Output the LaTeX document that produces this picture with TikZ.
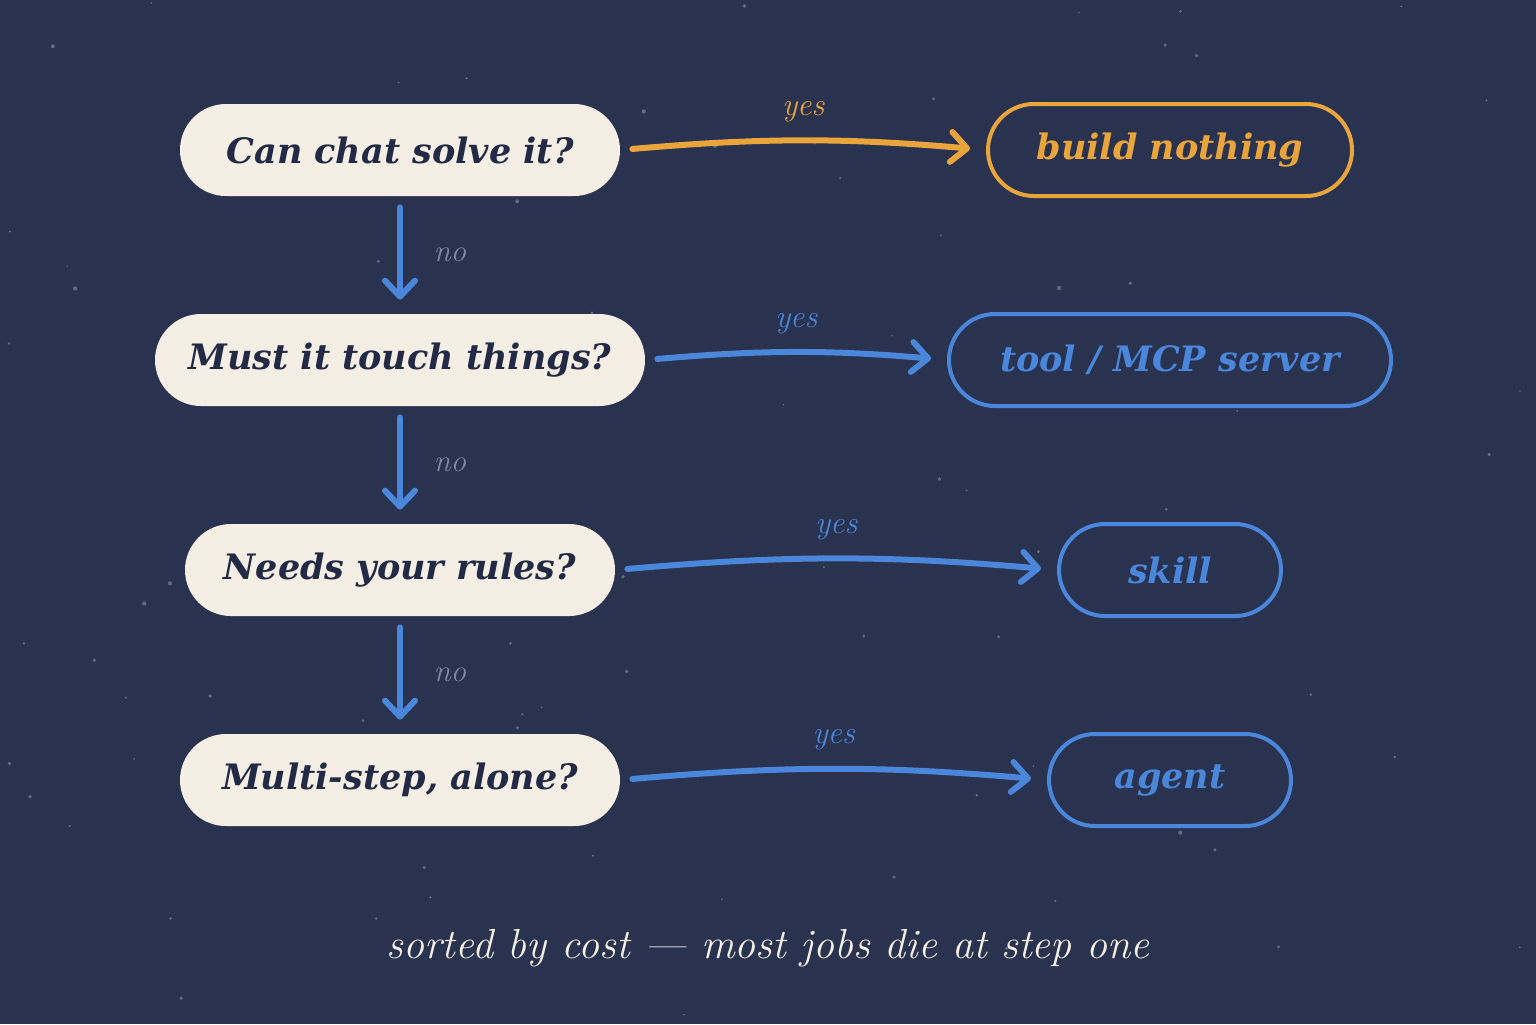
\documentclass[tikz,border=0pt]{standalone}
\usepackage{fontspec}
\newfontfamily\boxfont{DejaVu Serif}
\usetikzlibrary{arrows.meta,positioning}
\definecolor{navy}{HTML}{29324F}
\definecolor{cream}{HTML}{F4EEE4}
\definecolor{ink}{HTML}{222A45}
\definecolor{amber}{HTML}{E9A43B}
\definecolor{sky}{HTML}{4A86D9}
\definecolor{slate}{HTML}{7F8AA6}
\tikzset{%
	question/.style = {rectangle, rounded corners=23pt, fill=cream, text=ink, minimum height=46pt, inner sep=0pt, font=\boxfont\bfseries\itshape\fontsize{17.5}{20}\selectfont},
	answer/.style   = {rectangle, rounded corners=23pt, draw=#1, fill=navy, line width=2pt, text=#1, minimum height=46pt, inner sep=0pt, font=\boxfont\bfseries\itshape\fontsize{17.5}{20}\selectfont},
	yesarrow/.style = {draw=#1, line width=3pt, line cap=round, -{Straight Barb[length=8pt,width=15pt,line cap=round,line join=round]}, bend left=5, shorten <=6pt, shorten >=8pt},
	noarrow/.style  = {draw=sky, line width=3pt, line cap=round, -{Straight Barb[length=8pt,width=15pt,line cap=round,line join=round]}, shorten <=5.5pt, shorten >=7pt},
	yeslabel/.style = {midway, above=4.5pt, font=\itshape\fontsize{16}{18}\selectfont},
	nolabel/.style  = {midway, right=12pt, text=slate, font=\itshape\fontsize{15.5}{18}\selectfont},
}

\begin{document}
\begin{tikzpicture}[x=0.5pt,y=-0.5pt,node distance=105pt]
	\fill[navy] (0,0) rectangle (1536,1024);
	\useasboundingbox (0,0) rectangle (1536,1024);
	% faint stars
	\pgfmathsetseed{11}
	\foreach \i in {1,...,90}
		\fill[white, opacity=0.28] (1536*rnd,1024*rnd) circle (0.4pt+0.7pt*rnd);

	% questions
	\node [question, minimum width=220pt] (chat) at (400,150) {Can chat solve it?};
	\node [question, minimum width=245pt] (touch) [below of=chat] {Must it touch things?};
	\node [question, minimum width=215pt] (rules) [below of=touch] {Needs your rules?};
	\node [question, minimum width=220pt] (alone) [below of=rules] {Multi-step, alone?};

	% answers
	\node [answer=amber, minimum width=182pt] (nothing) [right of=chat, node distance=385pt] {build nothing};
	\node [answer=sky, minimum width=221pt] (mcp) [right of=touch, node distance=385pt] {tool / MCP server};
	\node [answer=sky, minimum width=111pt] (skill) [right of=rules, node distance=385pt] {skill};
	\node [answer=sky, minimum width=121pt] (agent) [right of=alone, node distance=385pt] {agent};

	\draw[yesarrow=amber] (chat.east) to node[yeslabel, text=amber] {yes} (nothing.west);
	\draw[yesarrow=sky] (touch.east) to node[yeslabel, text=sky] {yes} (mcp.west);
	\draw[yesarrow=sky] (rules.east) to node[yeslabel, text=sky] {yes} (skill.west);
	\draw[yesarrow=sky] (alone.east) to node[yeslabel, text=sky] {yes} (agent.west);

	\draw[noarrow] (chat) -- node[nolabel] {no} (touch);
	\draw[noarrow] (touch) -- node[nolabel] {no} (rules);
	\draw[noarrow] (rules) -- node[nolabel] {no} (alone);

	\node [text=cream, font=\itshape\fontsize{21}{24}\selectfont] (caption) at (768,948) {sorted by cost --- most jobs die at step one};
\end{tikzpicture}
\end{document}
